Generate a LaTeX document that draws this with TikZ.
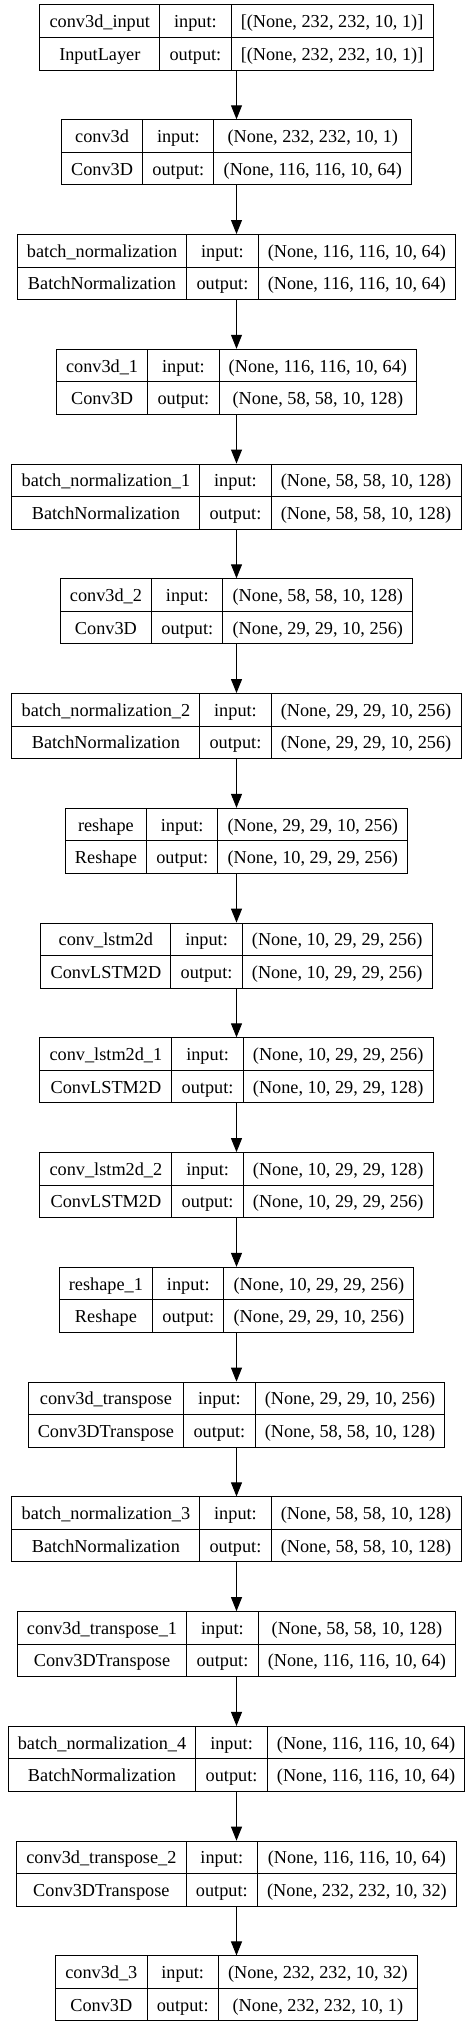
\documentclass[tikz,border=0pt]{standalone}
\usepackage{fontspec}
\setmainfont{Liberation Serif}
\usepackage{tikz}
\usetikzlibrary{matrix,arrows.meta}

\renewcommand{\arraystretch}{0}
% two text rows of one cell column
\newcommand{\tworows}[2]{\begin{tabular}{@{}c@{}}\rule[-7.31pt]{0pt}{24.375pt}#1\\\rule[-7.31pt]{0pt}{24.375pt}#2\end{tabular}}

\tikzset{
    layer/.style={matrix of nodes, ampersand replacement=\&, inner sep=0pt, outer sep=0pt,
        line width=0.75pt, column sep=-0.75pt,
        nodes={draw, line width=0.75pt, inner xsep=7.3pt, inner ysep=0pt, anchor=center,
            font=\fontsize{13.7}{16}\selectfont}},
    flow/.style={line width=0.75pt, -{Triangle[length=10.5pt,width=8.25pt]}}
}

% one layer box: name, y, layer name, class, input shape, output shape
\newcommand{\layerbox}[6]{%
    \matrix (#1) [layer] at (236.5,#2) {\tworows{#3}{#4} \& \tworows{input:}{output:} \& \tworows{#5}{#6}\\};
    \draw [line width=0.75pt] (#1-1-1.west) -- (#1-1-3.east);
}

\begin{document}
\begin{tikzpicture}[x=0.75pt,y=0.75pt,yscale=-1,xscale=1]
    \useasboundingbox (0,0) rectangle (474,2027);

    % Layers
    \layerbox{l1}{37.5}{conv3d\_input}{InputLayer}{[(None, 232, 232, 10, 1)]}{[(None, 232, 232, 10, 1)]}
    \layerbox{l2}{152.26}{conv3d}{Conv3D}{(None, 232, 232, 10, 1)}{(None, 116, 116, 10, 64)}
    \layerbox{l3}{267.02}{batch\_normalization}{BatchNormalization}{(None, 116, 116, 10, 64)}{(None, 116, 116, 10, 64)}
    \layerbox{l4}{381.78}{conv3d\_1}{Conv3D}{(None, 116, 116, 10, 64)}{(None, 58, 58, 10, 128)}
    \layerbox{l5}{496.54}{batch\_normalization\_1}{BatchNormalization}{(None, 58, 58, 10, 128)}{(None, 58, 58, 10, 128)}
    \layerbox{l6}{611.3}{conv3d\_2}{Conv3D}{(None, 58, 58, 10, 128)}{(None, 29, 29, 10, 256)}
    \layerbox{l7}{726.06}{batch\_normalization\_2}{BatchNormalization}{(None, 29, 29, 10, 256)}{(None, 29, 29, 10, 256)}
    \layerbox{l8}{840.82}{reshape}{Reshape}{(None, 29, 29, 10, 256)}{(None, 10, 29, 29, 256)}
    \layerbox{l9}{955.58}{conv\_lstm2d}{ConvLSTM2D}{(None, 10, 29, 29, 256)}{(None, 10, 29, 29, 256)}
    \layerbox{l10}{1070.34}{conv\_lstm2d\_1}{ConvLSTM2D}{(None, 10, 29, 29, 256)}{(None, 10, 29, 29, 128)}
    \layerbox{l11}{1185.1}{conv\_lstm2d\_2}{ConvLSTM2D}{(None, 10, 29, 29, 128)}{(None, 10, 29, 29, 256)}
    \layerbox{l12}{1299.86}{reshape\_1}{Reshape}{(None, 10, 29, 29, 256)}{(None, 29, 29, 10, 256)}
    \layerbox{l13}{1414.62}{conv3d\_transpose}{Conv3DTranspose}{(None, 29, 29, 10, 256)}{(None, 58, 58, 10, 128)}
    \layerbox{l14}{1529.38}{batch\_normalization\_3}{BatchNormalization}{(None, 58, 58, 10, 128)}{(None, 58, 58, 10, 128)}
    \layerbox{l15}{1644.14}{conv3d\_transpose\_1}{Conv3DTranspose}{(None, 58, 58, 10, 128)}{(None, 116, 116, 10, 64)}
    \layerbox{l16}{1758.9}{batch\_normalization\_4}{BatchNormalization}{(None, 116, 116, 10, 64)}{(None, 116, 116, 10, 64)}
    \layerbox{l17}{1873.66}{conv3d\_transpose\_2}{Conv3DTranspose}{(None, 116, 116, 10, 64)}{(None, 232, 232, 10, 32)}
    \layerbox{l18}{1988.42}{conv3d\_3}{Conv3D}{(None, 232, 232, 10, 32)}{(None, 232, 232, 10, 1)}

    % Arrows
    \foreach \i [evaluate=\i as \j using int(\i+1)] in {1,...,17}
        \draw [flow] (l\i.south) -- (l\j.north);

\end{tikzpicture}
\end{document}
